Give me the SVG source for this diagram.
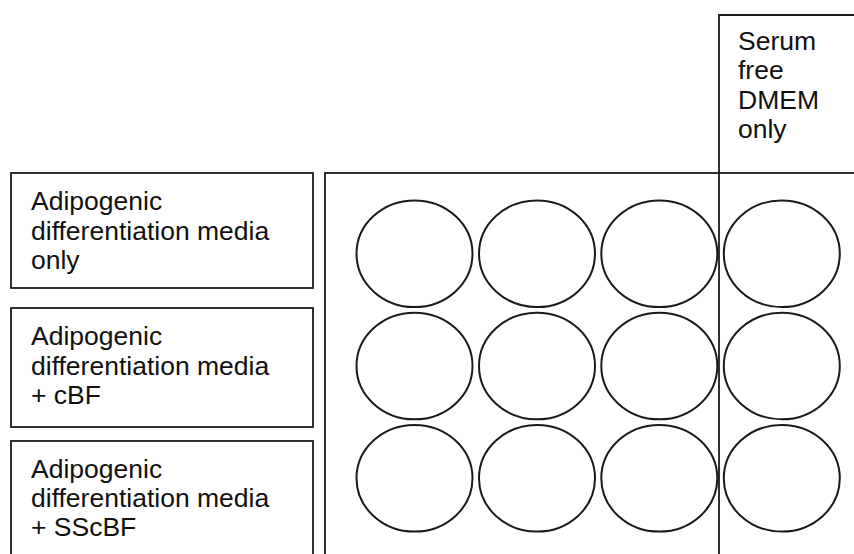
<svg xmlns="http://www.w3.org/2000/svg" width="854" height="554" viewBox="0 0 854 554">
  <style>
    .frame { fill: #fff; stroke: #1a1a1a; stroke-width: 1.8; }
    .well { fill: #fff; stroke: #1a1a1a; stroke-width: 2; }
    .label { font-family: "Liberation Sans", Arial, sans-serif; font-size: 26.5px; fill: #111; }
  </style>
  <rect width="854" height="554" fill="#fff"/>

  <!-- Serum free column header -->
  <g id="serum-free-header">
    <path class="frame" d="M860,15 H719 V560" fill="none"/>
    <text class="label" x="738" y="50">Serum</text>
    <text class="label" x="738" y="79">free</text>
    <text class="label" x="738" y="108.5">DMEM</text>
    <text class="label" x="738" y="138">only</text>
  </g>

  <!-- Plate outline -->
  <g id="plate">
    <rect class="frame" x="325" y="173" width="540" height="390"/>
    <line x1="719" y1="173" x2="719" y2="560" stroke="#1a1a1a" stroke-width="1.8"/>
  </g>

  <!-- Row labels -->
  <g id="row-1-label">
    <rect class="frame" x="11" y="173" width="302" height="115"/>
    <text class="label" x="31" y="210">Adipogenic</text>
    <text class="label" x="31" y="239.5">differentiation media</text>
    <text class="label" x="31" y="268.5">only</text>
  </g>
  <g id="row-2-label">
    <rect class="frame" x="11" y="308" width="302" height="119"/>
    <text class="label" x="31" y="345">Adipogenic</text>
    <text class="label" x="31" y="374.5">differentiation media</text>
    <text class="label" x="31" y="403.5">+ cBF</text>
  </g>
  <g id="row-3-label">
    <rect class="frame" x="11" y="441" width="302" height="130"/>
    <text class="label" x="31" y="477.5">Adipogenic</text>
    <text class="label" x="31" y="507">differentiation media</text>
    <text class="label" x="31" y="536">+ SScBF</text>
  </g>

  <!-- Wells: 3 rows x 4 columns -->
  <g id="wells">
    <ellipse class="well" cx="414.5" cy="253.7" rx="58" ry="53.3"/>
    <ellipse class="well" cx="537" cy="253.7" rx="58" ry="53.3"/>
    <ellipse class="well" cx="659.3" cy="253.7" rx="58" ry="53.3"/>
    <ellipse class="well" cx="781.8" cy="253.7" rx="58" ry="53.3"/>

    <ellipse class="well" cx="414.5" cy="366" rx="58" ry="53.3"/>
    <ellipse class="well" cx="537" cy="366" rx="58" ry="53.3"/>
    <ellipse class="well" cx="659.3" cy="366" rx="58" ry="53.3"/>
    <ellipse class="well" cx="781.8" cy="366" rx="58" ry="53.3"/>

    <ellipse class="well" cx="414.5" cy="478.3" rx="58" ry="53.3"/>
    <ellipse class="well" cx="537" cy="478.3" rx="58" ry="53.3"/>
    <ellipse class="well" cx="659.3" cy="478.3" rx="58" ry="53.3"/>
    <ellipse class="well" cx="781.8" cy="478.3" rx="58" ry="53.3"/>
  </g>
</svg>
